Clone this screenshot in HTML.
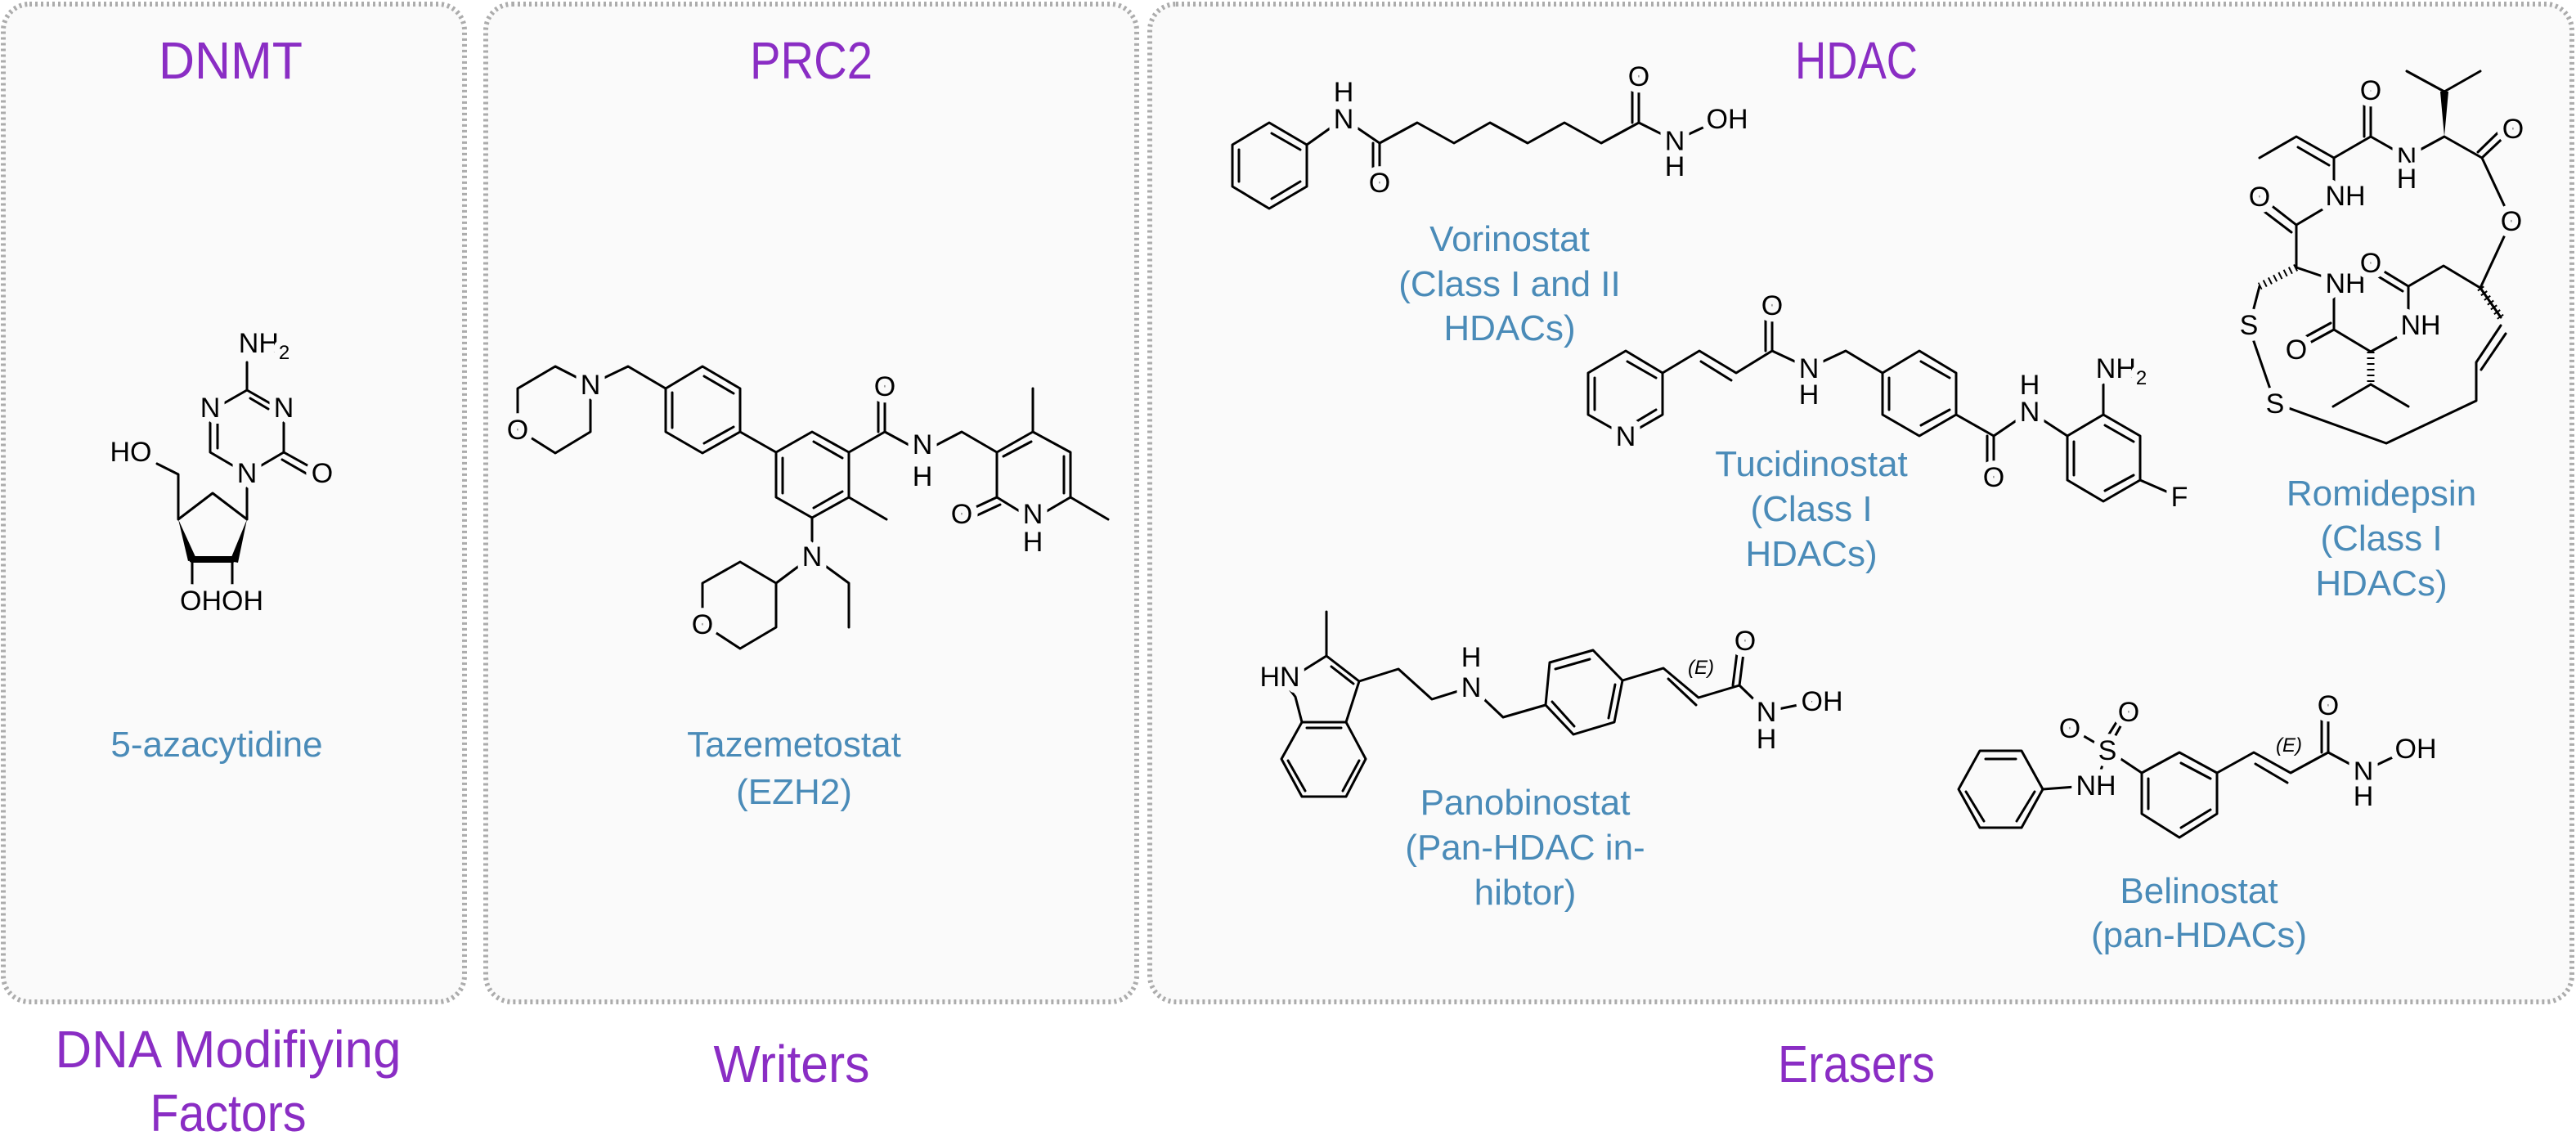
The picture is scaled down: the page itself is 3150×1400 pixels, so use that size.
<!DOCTYPE html>
<html><head><meta charset="utf-8"><style>
html,body{margin:0;padding:0;background:#fff;}
svg{display:block;}
.b{fill:none;stroke:#000;stroke-width:3;stroke-linecap:round;stroke-linejoin:round;}
.a{font-family:"Liberation Sans",sans-serif;font-size:34px;fill:#000;text-anchor:middle;stroke:#fafafa;stroke-width:16px;paint-order:stroke;stroke-linejoin:round;}
.t{font-family:"Liberation Sans",sans-serif;font-size:64px;fill:#8a2dc4;text-anchor:middle;}
.l{font-family:"Liberation Sans",sans-serif;font-size:44px;fill:#4a8bb8;text-anchor:middle;}
</style></head><body>
<svg width="3150" height="1400" viewBox="0 0 3150 1400" xmlns="http://www.w3.org/2000/svg">
<g fill="#fafafa" stroke="#acacac" stroke-width="6" stroke-dasharray="3 4">
<rect x="4" y="5" width="564" height="1220" rx="32"/>
<rect x="594" y="5" width="796" height="1220" rx="32"/>
<rect x="1406" y="5" width="1739" height="1220" rx="32"/>
</g>
<text class="t" x="282" y="96" textLength="176" lengthAdjust="spacingAndGlyphs">DNMT</text>
<text class="t" x="992" y="96" textLength="150" lengthAdjust="spacingAndGlyphs">PRC2</text>
<text class="t" x="2270" y="96" textLength="150" lengthAdjust="spacingAndGlyphs">HDAC</text>
<text class="t" x="279" y="1305" textLength="423" lengthAdjust="spacingAndGlyphs">DNA Modifiying</text>
<text class="t" x="279" y="1383" textLength="191" lengthAdjust="spacingAndGlyphs">Factors</text>
<text class="t" x="968" y="1323" textLength="191" lengthAdjust="spacingAndGlyphs">Writers</text>
<text class="t" x="2270" y="1323" textLength="192" lengthAdjust="spacingAndGlyphs">Erasers</text>

<text class="l" x="265" y="925">5-azacytidine</text>
<text class="l" x="971" y="925">Tazemetostat</text>
<text class="l" x="971" y="983">(EZH2)</text>
<text class="l" x="1846" y="307">Vorinostat</text>
<text class="l" x="1846" y="362">(Class I and II</text>
<text class="l" x="1846" y="416">HDACs)</text>
<text class="l" x="2215" y="582">Tucidinostat</text>
<text class="l" x="2215" y="637">(Class I</text>
<text class="l" x="2215" y="692">HDACs)</text>
<text class="l" x="2912" y="618">Romidepsin</text>
<text class="l" x="2912" y="673">(Class I</text>
<text class="l" x="2912" y="728">HDACs)</text>
<text class="l" x="1865" y="996">Panobinostat</text>
<text class="l" x="1865" y="1051">(Pan-HDAC in-</text>
<text class="l" x="1865" y="1106">hibtor)</text>
<text class="l" x="2689" y="1104">Belinostat</text>
<text class="l" x="2689" y="1158">(pan-HDACs)</text>

<!-- 5-azacytidine -->
<path class="b" d="M302,443 L302,477 L330,493 M302,477 L274,493 M306,487 L328,500 M347,510 L347,553 L392,578 M345,562 L385,585 M347,553 L318,570 M286,570 L257,553 L257,510 M266,548 L266,516 M302,590 L302,635 L260,603 L218,635 L218,580 L192,567"/>
<polygon points="218,635 230,686 240,683" fill="#000"/>
<polygon points="302,635 281,686 291,688" fill="#000"/>
<path class="b" d="M235,684 L284,684" style="stroke-width:8"/>
<path class="b" d="M235,684 L235,717 M284,684 L284,717"/>
<text class="a" x="323" y="431">NH<tspan font-size="24" dy="8">2</tspan></text>
<text class="a" x="347" y="510">N</text>
<text class="a" x="257" y="510">N</text>
<text class="a" x="302" y="590">N</text>
<text class="a" x="394" y="590">O</text>
<text class="a" x="160" y="564">HO</text>
<text class="a" x="271" y="746">OHOH</text>

<!-- Tazemetostat -->
<path class="b" d="M722,470 L679,448 L633,475 L633,525 L679,554 L722,528 Z M722,470 L768,448 L814,475 M814,475 L859,448 L905,475 L905,528 L859,554 L814,528 Z M822,480 L822,523 M861,460 L897,481 M861,542 L897,522 M905,528 L949,553 M949,553 L993,528 L1038,553 L1038,608 L993,633 L949,608 Z M957,560 L957,603 M995,540 L1030,560 M995,621 L1030,601 M1038,553 L1082,528 L1082,472 M1074,528 L1074,472 M1082,528 L1128,553 L1176,528 L1219,553 M1219,553 L1263,528 L1309,553 L1309,608 L1263,635 L1219,608 Z M1227,558 L1261,540 M1301,558 L1301,603 M1263,528 L1263,475 M1309,608 L1355,635 M1219,608 L1176,628 M1223,617 L1180,637 M1038,608 L1084,635 M993,633 L993,680 L1038,713 L1038,767 M993,680 L949,713 M949,713 L905,687 L859,713 L859,763 L905,793 L949,767 Z"/>
<text class="a" x="722" y="482">N</text>
<text class="a" x="633" y="537">O</text>
<text class="a" x="1082" y="484">O</text>
<text class="a" x="1128" y="555">N</text>
<text class="a" x="1128" y="594">H</text>
<text class="a" x="1176" y="640">O</text>
<text class="a" x="1263" y="640">N</text>
<text class="a" x="1263" y="674">H</text>
<text class="a" x="993" y="692">N</text>
<text class="a" x="859" y="775">O</text>

<!-- Vorinostat -->
<path class="b" d="M1552,150 L1598,177 L1598,228 L1552,255 L1507,228 L1507,177 Z M1515,183 L1515,222 M1555,163 L1590,183 M1555,243 L1590,222 M1598,177 L1643,145 L1687,175 L1687,223 M1679,175 L1679,223 M1687,175 L1733,150 L1778,175 L1822,150 L1868,175 L1913,150 L1958,175 L2004,150 L2004,93 M1996,150 L1996,93 M2004,150 L2048,172 L2106,145"/>
<text class="a" x="1643" y="124">H</text>
<text class="a" x="1643" y="157">N</text>
<text class="a" x="1687" y="235">O</text>
<text class="a" x="2004" y="105">O</text>
<text class="a" x="2048" y="184">N</text>
<text class="a" x="2048" y="215">H</text>
<text class="a" x="2112" y="157">OH</text>

<!-- Tucidinostat -->
<path class="b" d="M1988,429 L2033,456 L2033,507 L1988,533 L1942,507 L1942,456 Z M1950,462 L1950,501 M1990,442 L2025,462 M2025,501 L1995,519 M2033,456 L2078,429 L2123,456 L2167,429 L2167,373 M2159,429 L2159,373 M2080,442 L2117,465 M2167,429 L2212,450 L2257,429 L2302,456 M2302,456 L2347,429 L2392,456 L2392,507 L2347,533 L2302,507 Z M2310,462 L2310,501 M2349,442 L2384,462 M2349,520 L2384,501 M2392,507 L2438,533 L2438,583 M2430,533 L2430,583 M2438,533 L2482,503 L2528,533 M2528,533 L2572,507 L2617,533 L2617,587 L2572,613 L2528,587 Z M2536,540 L2536,581 M2574,520 L2609,540 M2574,600 L2609,581 M2572,507 L2572,470 M2617,587 L2663,607"/>
<text class="a" x="2167" y="385">O</text>
<text class="a" x="2212" y="462">N</text>
<text class="a" x="2212" y="494">H</text>
<text class="a" x="1988" y="545">N</text>
<text class="a" x="2438" y="595">O</text>
<text class="a" x="2482" y="482">H</text>
<text class="a" x="2482" y="515">N</text>
<text class="a" x="2594" y="462">NH<tspan font-size="24" dy="8">2</tspan></text>
<text class="a" x="2665" y="619">F</text>

<!-- Panobinostat -->
<path class="b" d="M1622,748 L1622,802 L1662,833 L1646,883 L1592,883 L1584,852 L1565,827 M1622,802 L1590,822 M1628,815 L1655,836 M1592,883 L1567,928 L1592,974 L1646,974 L1670,928 L1646,883 M1598,890 L1640,890 M1575,930 L1596,967 M1662,930 L1642,967 M1662,833 L1710,818 L1751,855 L1799,840 L1838,877 L1890,862 M1890,862 L1895,810 L1948,795 L1984,832 L1974,883 L1924,898 Z M1902,818 L1944,806 M1975,837 L1967,878 M1898,858 L1925,888 M1984,832 L2034,817 L2077,853 L2127,838 L2134,783 M2119,838 L2126,783 M2040,830 L2074,862 M2127,838 L2160,870 L2223,857"/>
<text class="a" x="1565" y="839">HN</text>
<text class="a" x="1799" y="815">H</text>
<text class="a" x="1799" y="852">N</text>
<text class="a" x="2080" y="824" style="font-size:24px;font-style:italic;stroke-width:6px">(E)</text>
<text class="a" x="2134" y="795">O</text>
<text class="a" x="2160" y="882">N</text>
<text class="a" x="2160" y="915">H</text>
<text class="a" x="2228" y="869">OH</text>

<!-- Belinostat -->
<path class="b" d="M2421,918 L2472,918 L2498,965 L2472,1012 L2421,1012 L2395,965 Z M2428,928 L2465,928 M2488,968 L2466,1004 M2404,968 L2426,1004 M2498,965 L2563,960 L2577,917 L2531,890 M2577,917 L2603,870 M2570,912 L2598,867 M2577,917 L2619,945 M2619,945 L2665,920 L2711,945 L2711,995 L2665,1024 L2619,995 Z M2627,952 L2627,989 M2667,933 L2703,952 M2667,1012 L2703,990 M2711,945 L2756,920 L2801,945 L2847,920 L2847,862 M2839,920 L2839,862 M2758,934 L2797,957 M2847,920 L2890,943 L2949,915"/>
<text class="a" x="2531" y="902">O</text>
<text class="a" x="2603" y="882">O</text>
<text class="a" x="2577" y="929">S</text>
<text class="a" x="2563" y="972">NH</text>
<text class="a" x="2799" y="919" style="font-size:24px;font-style:italic;stroke-width:6px">(E)</text>
<text class="a" x="2847" y="874">O</text>
<text class="a" x="2890" y="955">N</text>
<text class="a" x="2890" y="985">H</text>
<text class="a" x="2954" y="927">OH</text>

<!-- Romidepsin -->
<path class="b" d="M2763,193 L2808,167 L2854,193 L2899,167 L2899,112 M2891,167 L2891,112 M2810,180 L2848,202 M2899,167 L2943,192 L2989,167 L3035,193 L3073,157 M3030,186 L3066,151 M3035,193 L3071,270 L3033,352 L3058,388 M3058,398 L3028,443 L3028,490 L2918,542 L2782,493 L2750,400 M3064,408 L3034,452 M2750,400 L2763,350 M2808,327 L2808,275 L2763,240 M2802,284 L2760,252 M2808,275 L2867,240 M2854,193 L2854,240 M2808,327 L2867,347 M2854,350 L2854,403 L2810,427 M2850,395 L2806,419 M2854,403 L2899,430 L2957,398 M2945,398 L2945,350 L2899,322 M2938,356 L2895,330 M2945,350 L2988,325 L3033,352 M2899,470 L2853,497 M2899,470 L2945,497 M2989,112 L2943,87 M2989,112 L3033,87"/>
<polygon points="2989,167 2984,112 2994,112" fill="#000"/>
<path d="M2808,327 L2763,350 M3033,352 L3058,388 M2899,430 L2899,470" stroke="#000" stroke-width="9" stroke-dasharray="2 5" fill="none"/>
<text class="a" x="2899" y="122">O</text>
<text class="a" x="2943" y="204">N</text>
<text class="a" x="2943" y="230">H</text>
<text class="a" x="3073" y="169">O</text>
<text class="a" x="3071" y="282">O</text>
<text class="a" x="2868" y="251">NH</text>
<text class="a" x="2763" y="252">O</text>
<text class="a" x="2868" y="358">NH</text>
<text class="a" x="2899" y="333">O</text>
<text class="a" x="2750" y="409">S</text>
<text class="a" x="2960" y="409">NH</text>
<text class="a" x="2808" y="439">O</text>
<text class="a" x="2782" y="505">S</text>
</svg>
</body></html>
